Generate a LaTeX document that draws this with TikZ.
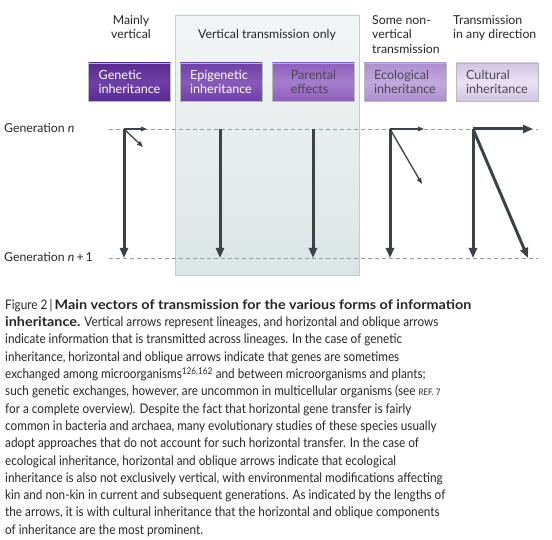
\documentclass[tikz,border=0pt]{standalone}
\usepackage{fontspec}
\setmainfont{Lato}
\newfontfamily\capfont[FakeStretch=0.89]{Lato}
\newfontfamily\capbold[FakeStretch=1.09]{Lato}
\usepackage{xcolor}
\usepackage{tikz}
\usetikzlibrary{arrows.meta,positioning}

\definecolor{arrowgray}{HTML}{3D4249}
\definecolor{dashgray}{HTML}{9A9A9A}
\definecolor{paneltop}{HTML}{F1F5F5}
\definecolor{panelbot}{HTML}{DCE5E5}
\definecolor{panelbd}{HTML}{C2CDCD}
\definecolor{boxtext}{HTML}{4A4852}
\definecolor{genedge}{HTML}{5A2A8E}
\definecolor{genmid}{HTML}{6E3FA6}
\definecolor{epiedge}{HTML}{7040A6}
\definecolor{epimid}{HTML}{875AB9}
\definecolor{paredge}{HTML}{8E5EBD}
\definecolor{parmid}{HTML}{A47ECC}
\definecolor{ecoedge}{HTML}{AE8ECF}
\definecolor{ecomid}{HTML}{C2A9DD}
\definecolor{culedge}{HTML}{D2C4E6}
\definecolor{culmid}{HTML}{E9E2F2}

\tikzset{
	vec/.style={draw=arrowgray, line width=3pt, -{Triangle[length=10pt,width=8pt]}},
	thinvec/.style={draw=arrowgray, line width=1.3pt, -{Triangle[length=6pt,width=4.5pt]}},
	genline/.style={draw=dashgray, line width=0.7pt, dash pattern=on 4pt off 3pt},
	infobox/.style 2 args={draw=gray!55, line width=0.6pt, minimum width=82pt, minimum height=38pt,
		inner sep=0pt, align=left, font=\fontsize{12.6}{14.5}\selectfont,
		top color=#1, bottom color=#1, middle color=#2},
	heading/.style={align=left, font=\fontsize{12.3}{14.6}\selectfont, inner sep=0pt, text=black!85}
}

\begin{document}
\begin{tikzpicture}[x=1pt,y=-1pt]
	\useasboundingbox (0,0) rectangle (552,540);
	% shaded panel
	\draw[panelbd, line width=0.7pt, top color=paneltop, bottom color=panelbot]
		(175,15) rectangle (359,275);
	%
	\node[heading, align=center, anchor=north] (MV) at (131,15) {Mainly\\vertical};
	\node[heading, anchor=north] (VO) at (267,29) {Vertical transmission only};
	\node[heading, anchor=north west] (SN) at (372,15) {Some non-\\vertical\\transmission};
	\node[heading, anchor=north west] (TA) at (453,15) {Transmission\\in any direction};
	%
	\node[infobox={genedge}{genmid}, text=white] (Gen) at (129.5,82) {Genetic\\inheritance};
	\node[infobox={epiedge}{epimid}, text=white] (Epi) at (221,82) {Epigenetic\\inheritance};
	\node[infobox={paredge}{parmid}, text=boxtext] (Par) at (313.5,82) {Parental\\effects};
	\node[infobox={ecoedge}{ecomid}, text=boxtext] (Eco) at (405,82) {Ecological\\inheritance};
	\node[infobox={culedge}{culmid}, text=boxtext] (Cul) at (497,82) {Cultural\\inheritance};
	%
	\node[heading, anchor=base west] (GN) at (4,133) {Generation \textit{n}};
	\node[heading, anchor=base west] (GN1) at (4,262) {Generation \textit{n}\,+\,1};
	\coordinate (nL) at (109,129);
	\coordinate (nR) at (538,129);
	\coordinate (mL) at (109,258);
	\coordinate (mR) at (538,258);
	\draw[genline] (nL) -- (nR);
	\draw[genline] (mL) -- (mR);
	%
	\coordinate (GenT) at (124,129);
	\coordinate (GenB) at (124,258);
	\coordinate (GenH) at (147,129);
	\coordinate (GenD) at (143,147);
	\coordinate (EpiT) at (220,129);
	\coordinate (EpiB) at (220,258);
	\coordinate (ParT) at (313,129);
	\coordinate (ParB) at (313,258);
	\coordinate (EcoT) at (390,129);
	\coordinate (EcoB) at (390,258);
	\coordinate (EcoH) at (424,129);
	\coordinate (EcoD) at (422,184);
	\coordinate (CulT) at (473,129);
	\coordinate (CulB) at (473,258);
	\coordinate (CulH) at (533,129);
	\coordinate (CulD) at (528,258);
	%
	\draw[vec] (GenT) -- (GenB);
	\draw[thinvec] (GenT) -- (GenH);
	\draw[thinvec] (GenT) -- (GenD);
	\draw[vec] (EpiT) -- (EpiB);
	\draw[vec] (ParT) -- (ParB);
	\draw[vec] (EcoT) -- (EcoB);
	\draw[thinvec] (EcoT) -- (EcoH);
	\draw[thinvec] (EcoT) -- (EcoD);
	\draw[vec] (CulT) -- (CulB);
	\draw[vec] (CulT) -- (CulH);
	\draw[vec] (CulT) -- (CulD);
	%
	\node[anchor=north west, align=left, inner sep=0pt, text=black!85,
		font=\capfont\fontsize{13.2}{17.3}\selectfont] (Cap) at (5,299)
		{Figure 2\,|\,{\capbold\bfseries Main vectors of transmission for the various forms of information}\\
		{\capbold\bfseries inheritance.} Vertical arrows represent lineages, and horizontal and oblique arrows\\
		indicate information that is transmitted across lineages. In the case of genetic\\
		inheritance, horizontal and oblique arrows indicate that genes are sometimes\\
		exchanged among microorganisms\textsuperscript{126,162} and between microorganisms and plants;\\
		such genetic exchanges, however, are uncommon in multicellular organisms (see {\small REF.~7}\\
		for a complete overview). Despite the fact that horizontal gene transfer is fairly\\
		common in bacteria and archaea, many evolutionary studies of these species usually\\
		adopt approaches that do not account for such horizontal transfer. In the case of\\
		ecological inheritance, horizontal and oblique arrows indicate that ecological\\
		inheritance is also not exclusively vertical, with environmental modifications affecting\\
		kin and non-kin in current and subsequent generations. As indicated by the lengths of\\
		the arrows, it is with cultural inheritance that the horizontal and oblique components\\
		of inheritance are the most prominent.};
\end{tikzpicture}
\end{document}
